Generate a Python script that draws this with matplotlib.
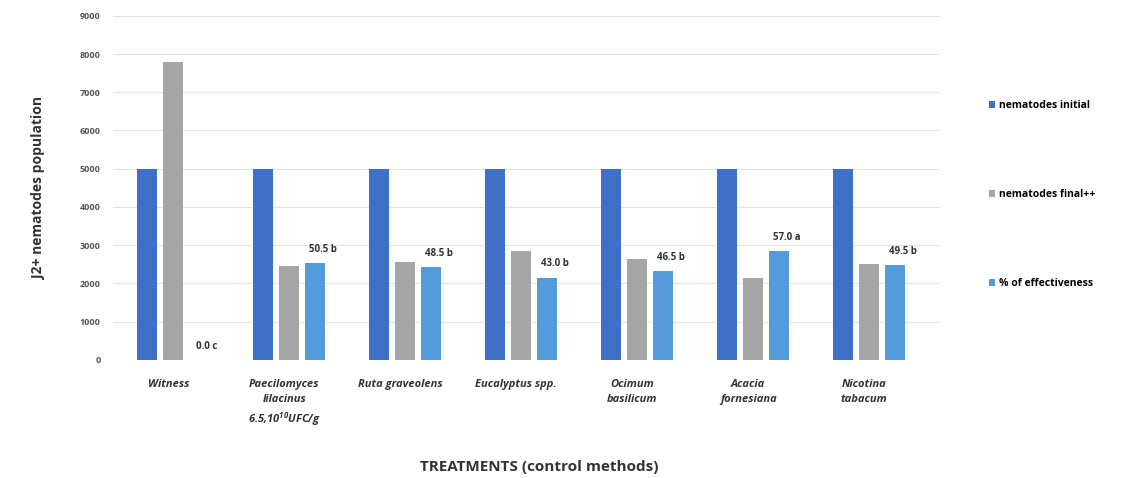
import numpy as np
import matplotlib.pyplot as plt

plt.rcParams['font.family'] = ['Open Sans', 'DejaVu Sans']
plt.rcParams['mathtext.fontset'] = 'custom'
plt.rcParams['mathtext.rm'] = 'Open Sans:bold:italic'
plt.rcParams['mathtext.it'] = 'Open Sans:bold:italic'

treatments = ['Witness', 'Paecilomyces\nlilacinus\n6.5,10$^{10}$UFC/g', 'Ruta graveolens',
              'Eucalyptus spp.', 'Ocimum\nbasilicum', 'Acacia\nfornesiana', 'Nicotina\ntabacum']
initial = [5000, 5000, 5000, 5000, 5000, 5000, 5000]
final = [7800, 2450, 2550, 2850, 2650, 2150, 2500]
effectiveness = [0.0, 50.5, 48.5, 43.0, 46.5, 57.0, 49.5]
letters = ['c', 'b', 'b', 'b', 'b', 'a', 'b']

# effectiveness is drawn on the population scale (x50)
eff_scaled = [e * 50 for e in effectiveness]

x = np.arange(len(treatments))
w = 0.172
off = 0.224

fig = plt.figure(figsize=(11.23, 4.78), dpi=100)
ax = fig.add_axes([0.1006, 0.247, 0.736, 0.72])

ax.bar(x - off, initial, w, color='#3F6FC6', label='nematodes initial', zorder=3)
ax.bar(x, final, w, color='#A5A5A5', label='nematodes final++', zorder=3)
ax.bar(x + off, eff_scaled, w, color='#559BDB', label='% of effectiveness', zorder=3)

for xi, e, es, l in zip(x, effectiveness, eff_scaled, letters):
    ax.text(xi + off + 0.07, es + 220, f'{e:.1f} {l}', ha='center', va='bottom',
            fontsize=7, fontweight='bold', color='#333333')

ax.set_ylim(0, 9000)
ax.set_yticks(range(0, 9001, 1000))
ax.set_xlim(-0.517, 6.61)
ax.set_xticks(x - 0.04)
ax.set_xticklabels(treatments, fontsize=8, fontweight='bold', style='italic',
                   color='#333333', linespacing=1.45)
ax.tick_params(axis='y', labelsize=6.5, colors='#555555', length=0, pad=9)
ax.tick_params(axis='x', length=0, pad=14)
for lab in ax.get_yticklabels():
    lab.set_fontweight('bold')
ax.grid(axis='y', color='#E3E3E3', linewidth=0.8, zorder=0)
for s in ax.spines.values():
    s.set_visible(False)

ax.set_ylabel('J2+ nematodes population', fontsize=10, fontweight='bold', color='#333333', labelpad=24)
fig.text(0.48, 0.015, 'TREATMENTS (control methods)', ha='center', fontsize=11,
         fontweight='bold', color='#333333')

fig.legend(loc='upper left', bbox_to_anchor=(0.872, 0.81), frameon=False,
           labelspacing=7.5, handlelength=0.6, handleheight=0.6,
           handletextpad=0.4, prop={'weight': 'bold', 'size': 7.5})

fig.savefig('out.png', dpi=100)
